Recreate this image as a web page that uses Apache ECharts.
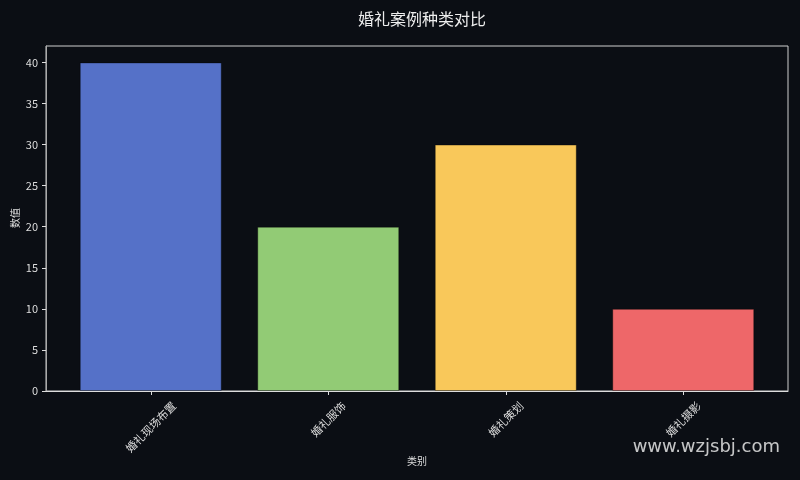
<!DOCTYPE html>
<html>
<head>
<meta charset="utf-8">
<script src="https://cdn.jsdelivr.net/npm/echarts@6/dist/echarts.min.js"></script>
<style>
html,body{margin:0;padding:0;background:#0b0e14;}
#main{width:800px;height:480px;}
</style>
</head>
<body>
<div id="main"></div>
<script>
// 数据
var categories = ['婚礼现场布置', '婚礼服饰', '婚礼策划', '婚礼摄影'];
var values = [40, 20, 30, 10];
var colors = ['#5571c8', '#92cb75', '#f9c85a', '#ee6769'];
var yTicks = [0, 5, 10, 15, 20, 25, 30, 35, 40];

var chart = echarts.init(document.getElementById('main'));
var font = '"Noto Sans CJK SC", "DejaVu Sans", sans-serif';
var longest = Math.max.apply(null, categories.map(function (c) { return c.length; }));
// 让旋转后的标签像 matplotlib 那样居中、顶部对齐
var rich = {};
categories.forEach(function (c, i) {
  var q = (longest - c.length) * 11 * 0.5;
  rich['c' + i] = { padding: [0, 0, q, q], fontSize: 11, color: '#dddddd' };
});

chart.setOption({
  backgroundColor: '#0b0e14',
  animation: false,
  textStyle: { fontFamily: font },
  title: {
    text: '婚礼案例种类对比',
    left: 417, top: 6, textAlign: 'center',
    textStyle: { color: '#eeeeee', fontSize: 16, fontWeight: 'normal', fontFamily: font }
  },
  grid: [
    // 外框
    { left: 46, right: 12, top: 46, bottom: 89, outerBoundsMode: 'none',
      show: true, borderColor: '#cfcfcf', borderWidth: 1, backgroundColor: 'transparent' },
    // 柱子（两侧留 matplotlib 式边距）
    { left: 62, right: 28, top: 46, bottom: 89, outerBoundsMode: 'none' }
  ],
  xAxis: [{
    gridIndex: 0, type: 'value', min: 0, max: 1,
    name: '类别', nameLocation: 'middle', nameGap: 65, nameMoveOverlap: false,
    nameTextStyle: { color: '#dddddd', fontSize: 10 },
    splitLine: { show: false },
    axisLine: { show: true, lineStyle: { color: '#dddddd' } },
    axisTick: { show: false },
    axisLabel: { show: false }
  }, {
    gridIndex: 1, type: 'category', data: categories, boundaryGap: true,
    axisLine: { show: false },
    axisTick: { show: true, alignWithLabel: true, length: 4, lineStyle: { color: '#dddddd' } },
    axisLabel: {
      interval: 0, rotate: 45, align: 'center', verticalAlign: 'middle', margin: 36,
      formatter: function (v, i) { return '{c' + i + '|' + v + '}'; },
      rich: rich
    }
  }],
  yAxis: [{
    gridIndex: 0, type: 'value', min: 0, max: 42,
    splitLine: { show: false },
    axisLine: { show: true, lineStyle: { color: '#aaaaaa' } },
    axisTick: { show: true, customValues: yTicks, length: 4, lineStyle: { color: '#dddddd' } },
    axisLabel: { customValues: yTicks, color: '#dddddd', fontSize: 11, margin: 8 }
  }, {
    gridIndex: 1, type: 'value', min: 0, max: 42, show: false
  }],
  series: [{
    type: 'bar', xAxisIndex: 1, yAxisIndex: 1,
    barWidth: '80%',
    data: values.map(function (v, i) {
      return {
        value: v,
        itemStyle: { color: colors[i], borderColor: 'rgba(0,0,0,0.35)', borderWidth: 1 }
      };
    })
  }],
  graphic: [{
    // y 轴名称
    type: 'text', x: 15, y: 218, rotation: Math.PI / 2,
    style: { text: '数值', fill: '#dddddd', fontSize: 10, fontFamily: font, align: 'center', verticalAlign: 'middle' }
  }, {
    type: 'text', right: 20, top: 438,
    style: { text: 'www.wzjsbj.com', fill: 'rgba(230,230,230,0.85)', fontSize: 18, fontFamily: '"DejaVu Sans", sans-serif' }
  }]
});
</script>
</body>
</html>
